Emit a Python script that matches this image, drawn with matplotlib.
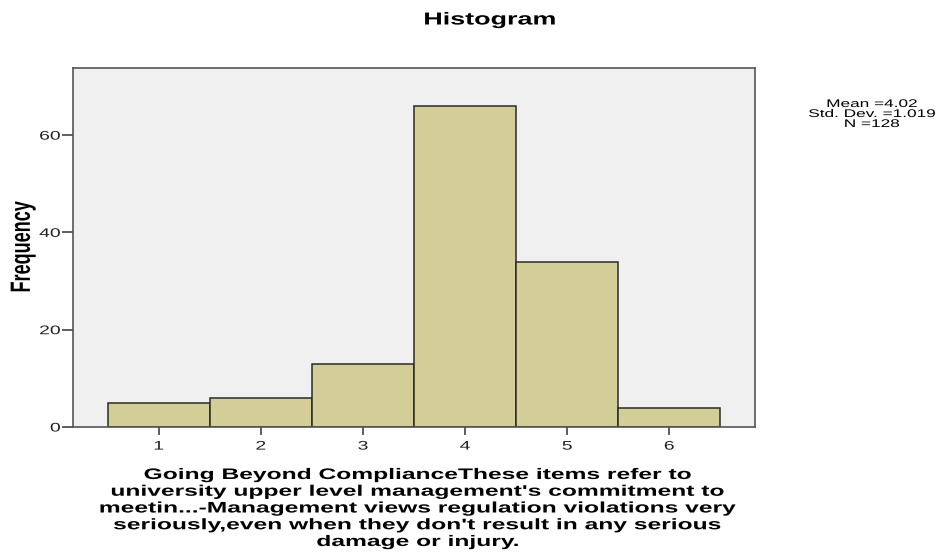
import matplotlib
matplotlib.use("Agg")
import matplotlib.pyplot as plt
from matplotlib.patheffects import AbstractPathEffect
from matplotlib.transforms import Affine2D

plt.rcParams['font.family'] = ['Liberation Sans', 'DejaVu Sans']

# frequency table for the item
values = [1, 2, 3, 4, 5, 6]
counts = [5, 6, 13, 66, 34, 4]
stats_lines = ["Mean =4.02", "Std. Dev. =1.019", "N =128"]
y_ticks = [0, 20, 40, 60]
xlabel = ("Going Beyond ComplianceThese items refer to\n"
          "university upper level management's commitment to\n"
          "meetin...-Management views regulation violations very\n"
          "seriously,even when they don't result in any serious\n"
          "damage or injury.")

WIDE = 1.55


class Widen(AbstractPathEffect):
    """Stretch drawn glyphs horizontally around a fixed x."""

    def __init__(self, sx=WIDE, anchor='center'):
        super().__init__()
        self.sx = sx
        self.anchor = anchor

    def draw_path(self, renderer, gc, tpath, affine, rgbFace=None):
        ext = tpath.get_extents(affine)
        if self.anchor == 'right':
            x0 = ext.x1
        else:
            x0 = (ext.x0 + ext.x1) / 2
        aff = affine + Affine2D().translate(-x0, 0).scale(self.sx, 1).translate(x0, 0)
        renderer.draw_path(gc, tpath, aff, rgbFace)


fig = plt.figure(figsize=(9.43, 5.59), dpi=100)
ax = fig.add_axes([73 / 943, 1 - 427 / 559, 682 / 943, 359 / 559])
ax.set_facecolor('#f0f0f0')

ax.bar(values, counts, width=1.0, color='#d3ce97', edgecolor='#2a2a2a', linewidth=1.1)

ax.set_xlim(0.16, 6.84)
ax.set_ylim(0, 73.8)
ax.set_xticks(values)
ax.set_yticks(y_ticks)
ax.tick_params(axis='both', labelsize=9, labelcolor='#222222', color='#333333', width=1.1)
ax.tick_params(axis='x', length=5.8, pad=4)
ax.tick_params(axis='y', length=8, pad=1)
for s in ax.spines.values():
    s.set_color('#555555')
    s.set_linewidth(1.2)

for lbl in ax.get_xticklabels():
    lbl.set_path_effects([Widen()])
for lbl in ax.get_yticklabels():
    lbl.set_path_effects([Widen(anchor='right')])

fig.text(23 / 943, 1 - 247 / 559, "Frequency", rotation=90, ha='center', va='center',
         fontsize=13, fontweight='bold', path_effects=[Widen()])
fig.text(490 / 943, 1 - 20 / 559, "Histogram", ha='center', va='center', fontsize=12.5,
         fontweight='bold', path_effects=[Widen()])
fig.text(418 / 943, 1 - 468 / 559, xlabel, ha='center', va='top', fontsize=11,
         fontweight='bold', linespacing=1.25, path_effects=[Widen(1.61)])
fig.text(872 / 943, 1 - 114 / 559, "\n".join(stats_lines), ha='center', va='center',
         fontsize=8, linespacing=1.0, path_effects=[Widen()])

fig.savefig("out.png", dpi=100)
